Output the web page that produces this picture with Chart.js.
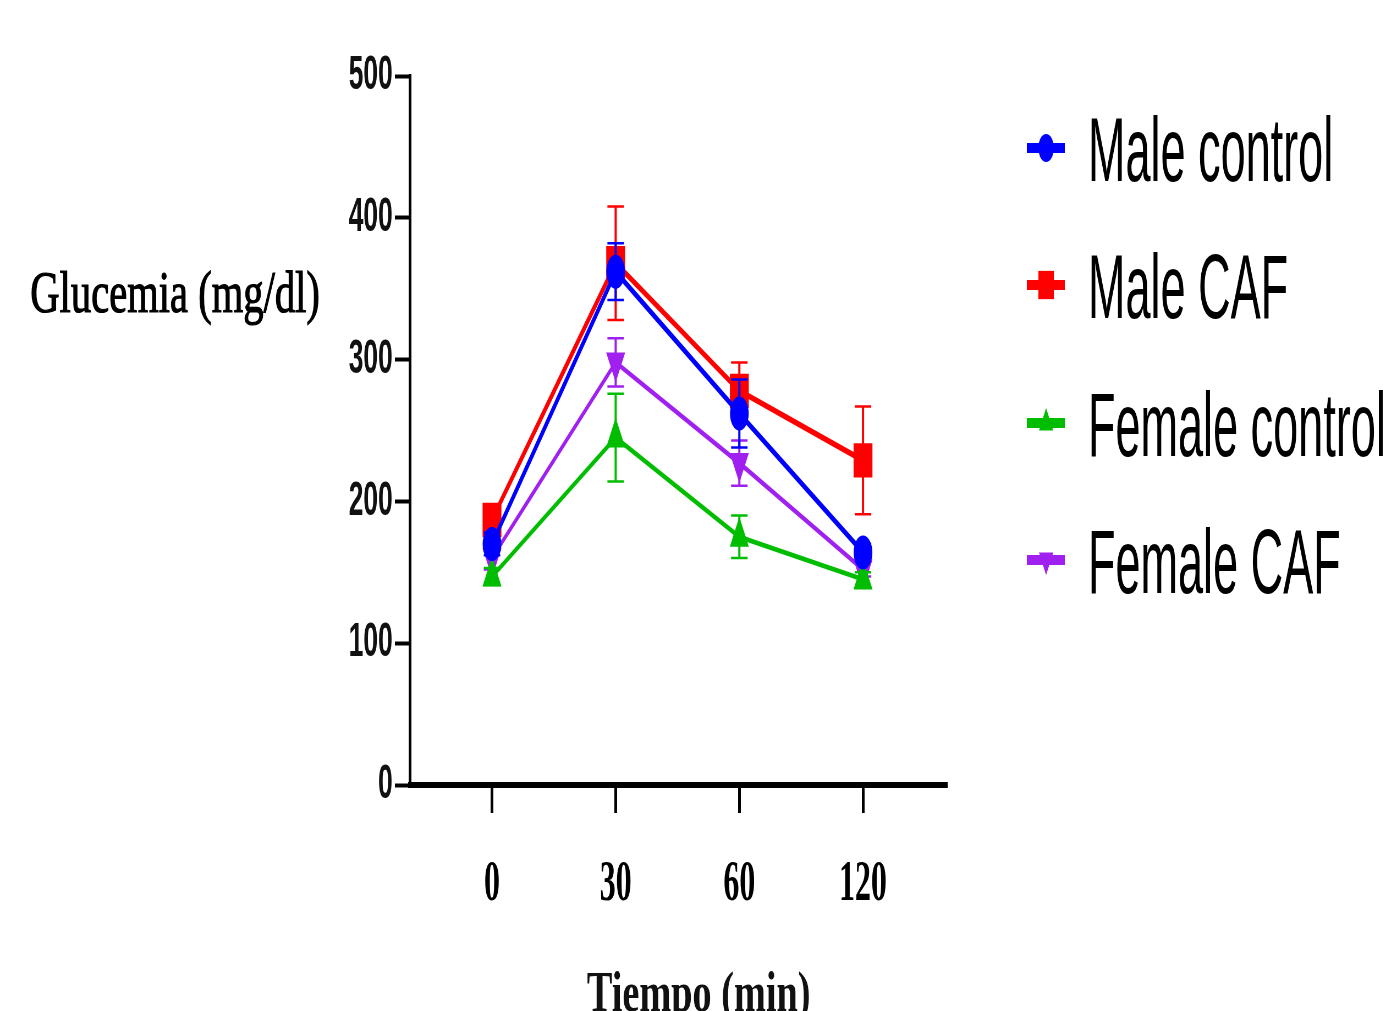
<!DOCTYPE html>
<html>
<head>
<meta charset="utf-8">
<script src="https://cdn.jsdelivr.net/npm/chart.js@4.4.0/dist/chart.umd.min.js"></script>
<style>
html, body { margin: 0; padding: 0; background: #fff; overflow: hidden; }
/* the source figure is squeezed sideways, so draw wide and squeeze it back */
#wrap { position: absolute; left: 0; top: 0; width: 2515px; height: 1011px; transform: scaleX(0.55); transform-origin: 0 0; }
</style>
</head>
<body>
<div id="wrap"><canvas id="glucoseChart" width="2515" height="1011"></canvas></div>
<script>
var timeLabels = ['0', '30', '60', '120'];
var yTicks = [0, 100, 200, 300, 400, 500];

var maleControl = [170, 362, 262, 164];
var maleCaf = [187, 368, 278, 229];
var femaleControl = [147, 245, 175, 145];
var femaleCaf = [160, 298, 227, 152];

// SEM
var maleControlErr = [8, 20, 24, 6];
var maleCafErr = [10, 40, 20, 38];
var femaleControlErr = [6, 31, 15, 5];
var femaleCafErr = [8, 17, 16, 5];

function toPoints(arr) {
  return arr.map(function (v, i) { return { x: i, y: v }; });
}

var errorBars = {
  id: 'errorBars',
  beforeDatasetDraw: function (chart, args) {
    var ds = chart.data.datasets[args.index];
    var xs = chart.scales.x, ys = chart.scales.y;
    var ctx = chart.ctx;
    ctx.save();
    ctx.strokeStyle = ds.borderColor;
    ds.errors.forEach(function (e, i) {
      var px = xs.getPixelForValue(ds.data[i].x);
      var top = ys.getPixelForValue(ds.data[i].y + e);
      var bot = ys.getPixelForValue(ds.data[i].y - e);
      ctx.lineWidth = 4;
      ctx.beginPath();
      ctx.moveTo(px, top); ctx.lineTo(px, bot);
      ctx.stroke();
      ctx.lineWidth = 2.5;
      ctx.beginPath();
      ctx.moveTo(px - 15, top); ctx.lineTo(px + 15, top);
      ctx.moveTo(px - 15, bot); ctx.lineTo(px + 15, bot);
      ctx.stroke();
    });
    ctx.restore();
  }
};

var sideText = {
  id: 'sideText',
  afterDraw: function (chart) {
    var ctx = chart.ctx;
    var rows = [148, 285, 423, 560];
    chart.data.datasets.forEach(function (ds, i) {
      var y = rows[i];
      ctx.save();
      ctx.strokeStyle = ds.borderColor;
      ctx.fillStyle = ds.borderColor;
      ctx.lineWidth = 10;
      ctx.beginPath();
      ctx.moveTo(1867, y); ctx.lineTo(1936, y);
      ctx.stroke();
      Chart.helpers.drawPoint(ctx, { pointStyle: ds.pointStyle, rotation: ds.pointRotation || 0, radius: ds.pointRadius, borderWidth: 0 }, 1902, y);
      ctx.translate(1978, y + 33);
      ctx.scale(0.91, 1);
      ctx.fillStyle = '#000';
      ctx.font = '90px "Liberation Sans", Arial, sans-serif';
      ctx.textBaseline = 'alphabetic';
      ctx.fillText(ds.label, 0, 0);
      ctx.restore();
    });

    // axis titles
    ctx.save();
    ctx.fillStyle = '#000';
    ctx.strokeStyle = '#000';
    ctx.lineWidth = 1.2;
    ctx.translate(55, 312);
    ctx.scale(1.23, 1);
    ctx.font = '60px "Liberation Serif", "Times New Roman", serif';
    ctx.fillText('Glucemia (mg/dl)', 0, 0);
    ctx.strokeText('Glucemia (mg/dl)', 0, 0);
    ctx.restore();

    ctx.save();
    ctx.fillStyle = '#111';
    ctx.translate(1067, 1011);
    ctx.scale(1.2, 1);
    ctx.font = 'bold 58px "Liberation Serif", "Times New Roman", serif';
    ctx.fillText('Tiempo (min)', 0, 0);
    ctx.restore();
  }
};

var ctx = document.getElementById('glucoseChart').getContext('2d');
var myChart = new Chart(ctx, {
  type: 'line',
  data: {
    datasets: [{
      label: 'Male control',
      data: toPoints(maleControl),
      errors: maleControlErr,
      borderColor: '#0000ff',
      backgroundColor: '#0000ff',
      borderWidth: 6,
      pointStyle: 'circle',
      pointRadius: 14
    }, {
      label: 'Male CAF',
      data: toPoints(maleCaf),
      errors: maleCafErr,
      borderColor: '#ff0000',
      backgroundColor: '#ff0000',
      borderWidth: 6,
      pointStyle: 'rect',
      pointRadius: 20
    }, {
      label: 'Female control',
      data: toPoints(femaleControl),
      errors: femaleControlErr,
      borderColor: '#00bd00',
      backgroundColor: '#00bd00',
      borderWidth: 5,
      pointStyle: 'triangle',
      pointRadius: 15
    }, {
      label: 'Female CAF',
      data: toPoints(femaleCaf),
      errors: femaleCafErr,
      borderColor: '#a020f0',
      backgroundColor: '#a020f0',
      borderWidth: 5,
      pointStyle: 'triangle',
      pointRotation: 180,
      pointRadius: 15
    }]
  },
  options: {
    responsive: false,
    devicePixelRatio: 1,
    animation: false,
    layout: { padding: { left: 0, top: 76, right: 793, bottom: 0 } },
    elements: {
      line: { tension: 0 },
      point: { borderWidth: 0, hoverRadius: 14 }
    },
    scales: {
      x: {
        type: 'linear',
        min: -0.665,
        max: 3.68,
        afterBuildTicks: function (scale) {
          scale.ticks = timeLabels.map(function (t, i) { return { value: i }; });
        },
        afterFit: function (scale) { scale.height = 226; },
        grid: { drawOnChartArea: false, tickLength: 28, tickWidth: 5, tickColor: '#000' },
        border: { color: '#000', width: 6 },
        ticks: {
          callback: function (v) { return timeLabels[v]; },
          font: { family: '"Liberation Serif", "Times New Roman", serif', size: 58, weight: 'bold' },
          color: '#000',
          padding: 37,
          maxRotation: 0,
          autoSkip: false
        }
      },
      y: {
        min: 0,
        max: 500,
        afterBuildTicks: function (scale) {
          scale.ticks = yTicks.map(function (v) { return { value: v }; });
        },
        afterFit: function (scale) { scale.width = 745; },
        grid: { drawOnChartArea: false, tickLength: 27, tickWidth: 4, tickColor: '#000' },
        border: { color: '#000', width: 5 },
        ticks: {
          font: { family: '"Liberation Sans", Arial, sans-serif', size: 48, weight: 'bold' },
          color: '#111',
          padding: 4
        }
      }
    },
    plugins: {
      legend: { display: false },
      tooltip: { enabled: false }
    }
  },
  plugins: [errorBars, sideText]
});
</script>
</body>
</html>
